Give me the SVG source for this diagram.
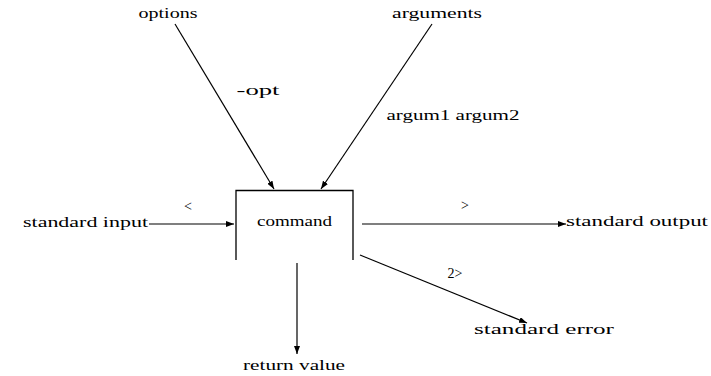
<svg xmlns="http://www.w3.org/2000/svg" width="711" height="376" viewBox="0 0 711 376">
<defs>
<marker id="ah" markerWidth="8" markerHeight="6" refX="8" refY="3" orient="auto" markerUnits="userSpaceOnUse">
<path d="M0,0 L8,3 L0,6 Z" fill="#000"/>
</marker>
<style>
text{font-family:"Liberation Serif","Times New Roman",serif;font-size:14px;fill:#000;dominant-baseline:middle}
.c{stroke:#000;stroke-width:1.2;fill:none;marker-end:url(#ah)}
</style>
</defs>
<rect width="711" height="376" fill="#fff"/>
<g id="command">
<path d="M236,260 V190.5 H353 V260" stroke="#000" stroke-width="1.3" fill="none"/>
<text x="294.5" y="223" text-anchor="middle" textLength="75" lengthAdjust="spacingAndGlyphs">command</text>
</g>
<g id="options"><text x="168" y="15" text-anchor="middle" textLength="59" lengthAdjust="spacingAndGlyphs">options</text></g>
<g id="arguments"><text x="437" y="15" text-anchor="middle" textLength="90" lengthAdjust="spacingAndGlyphs">arguments</text></g>
<g id="stdin"><text x="23" y="224" textLength="125" lengthAdjust="spacingAndGlyphs">standard input</text></g>
<g id="stdout"><text x="566" y="223" textLength="142" lengthAdjust="spacingAndGlyphs">standard output</text></g>
<g id="stderr"><text x="474" y="331" textLength="140" lengthAdjust="spacingAndGlyphs">standard error</text></g>
<g id="retval"><text x="294" y="367" text-anchor="middle" textLength="102" lengthAdjust="spacingAndGlyphs">return value</text></g>
<g id="connectors">
<line class="c" x1="175" y1="24" x2="274" y2="189"/>
<line class="c" x1="432" y1="24" x2="321" y2="189"/>
<line class="c" x1="149" y1="224" x2="234" y2="224"/>
<line class="c" x1="362" y1="224" x2="566" y2="224"/>
<line class="c" x1="360" y1="255" x2="527" y2="323"/>
<line class="c" x1="297" y1="263" x2="297" y2="354"/>
<text x="258" y="92" text-anchor="middle" textLength="43" lengthAdjust="spacingAndGlyphs">-opt</text>
<text x="453" y="117" text-anchor="middle" textLength="133" lengthAdjust="spacingAndGlyphs">argum1  argum2</text>
<text x="188" y="208" text-anchor="middle">&lt;</text>
<text x="465" y="207" text-anchor="middle">&gt;</text>
<text x="455" y="275" text-anchor="middle">2&gt;</text>
</g>
</svg>
